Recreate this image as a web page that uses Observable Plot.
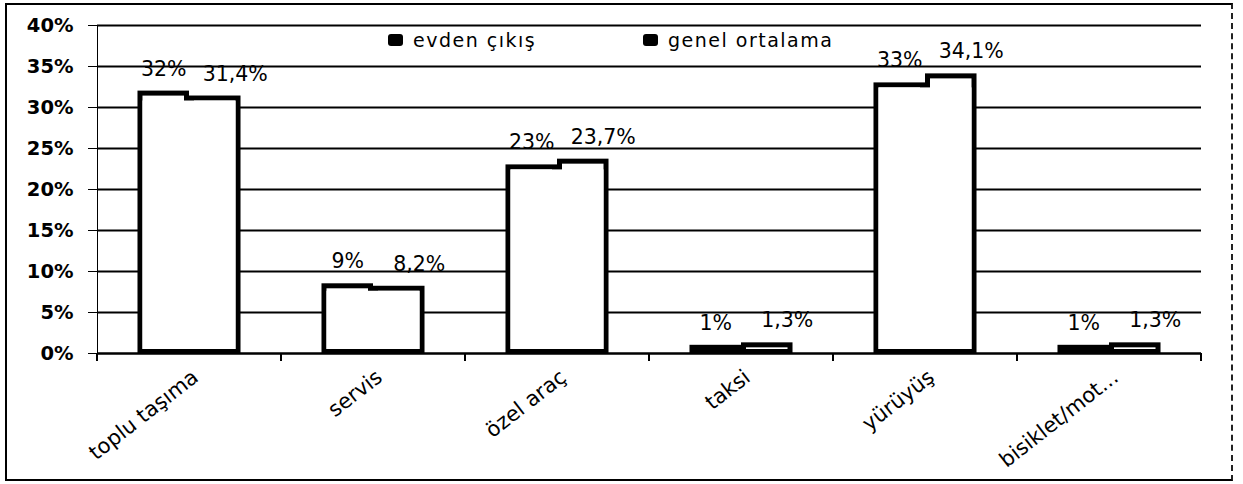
<!DOCTYPE html>
<html>
<head>
<meta charset="utf-8">
<script src="https://cdn.jsdelivr.net/npm/d3@7"></script>
<script src="https://cdn.jsdelivr.net/npm/@observablehq/plot@0.6"></script>
<style>
  html, body { margin: 0; padding: 0; background: white; }
  #wrap { position: relative; width: 1243px; height: 484px; overflow: hidden; background: white; }
  #border { position: absolute; left: 5px; top: 3px; width: 1224px; height: 474px;
            border: 2px solid black; border-right: 2px dashed #222; pointer-events: none; }
  #legend { position: absolute; top: 29px; left: 0; font-family: "DejaVu Sans", sans-serif;
            font-size: 19px; letter-spacing: 1.5px; color: black; }
  .item { position: absolute; white-space: nowrap; display: flex; align-items: center; }
  .sw { display: inline-block; width: 15px; height: 12px; background: black; border-radius: 3px; margin-right: 10px; }
  #chart svg [aria-label^="y-axis"] text { font-weight: bold !important; font-size: 19.5px !important; }
  #chart svg [aria-label^="fx-axis"] text { font-size: 21px !important; }
</style>
</head>
<body>
<div id="wrap">
  <div id="chart"></div>
  <div id="legend"></div>
  <div id="border"></div>
</div>
<script>
// ---- data ----
const categories = ["toplu taşıma", "servis", "özel araç", "taksi", "yürüyüş", "bisiklet/mot..."];
const seriesNames = ["evden çıkış", "genel ortalama"];
const evdenValues = [32, 8.5, 23, 1, 33, 1];
const genelValues = [31.4, 8.2, 23.7, 1.3, 34.1, 1.3];
const evdenLabels = ["32%", "9%", "23%", "1%", "33%", "1%"];
const genelLabels = ["31,4%", "8,2%", "23,7%", "1,3%", "34,1%", "1,3%"];
const yTicks = [0, 5, 10, 15, 20, 25, 30, 35, 40];

const rows = [];
categories.forEach((c, i) => {
  const pairMin = Math.min(evdenValues[i], genelValues[i]);
  rows.push({category: c, series: seriesNames[0], value: evdenValues[i], label: evdenLabels[i], pairMin});
  rows.push({category: c, series: seriesNames[1], value: genelValues[i], label: genelLabels[i], pairMin});
});

const B = 5; // border thickness of the bars
const isFirst = d => d.series === seriesNames[0];
const isSecond = d => d.series === seriesNames[1];

const plot = Plot.plot({
  width: 1243,
  height: 484,
  marginLeft: 97,
  marginRight: 42,
  marginTop: 25,
  marginBottom: 131,
  style: {fontFamily: "DejaVu Sans, sans-serif", fontSize: "20px", background: "transparent", color: "black", overflow: "visible"},
  facet: {data: rows, x: "category"},
  fx: {domain: categories, padding: 0, label: null, axis: "bottom", tickSize: 0, tickPadding: 18, tickRotate: -38},
  x: {domain: seriesNames, paddingInner: 0, paddingOuter: 0.786, axis: null, round: false},
  y: {domain: [0, 40], ticks: 8, tickFormat: d => d + "%", label: null, tickSize: 9, tickPadding: 15, line: true},
  marks: [
    Plot.ruleY(yTicks, {stroke: "black", strokeWidth: 2}),
    // outer black shape
    Plot.barY(rows, {x: "series", y: "value", fill: "black"}),
    // white interiors of each bar
    Plot.barY(rows, {x: "series", y: "value", fill: "white",
      insetLeft: B, insetRight: B, insetTop: B, insetBottom: B - 1}),
    // white bridge across the shared edge, up to the lower of the two bars
    Plot.barY(rows, {filter: isFirst, x: "series", y: "pairMin", fill: "white",
      insetLeft: B, insetTop: B, insetBottom: B - 1}),
    Plot.barY(rows, {filter: isSecond, x: "series", y: "pairMin", fill: "white",
      insetRight: B, insetTop: B, insetBottom: B - 1}),
    Plot.ruleY([0], {stroke: "black", strokeWidth: 2}),
    Plot.text(rows, {filter: isFirst, x: "series", y: "value", text: "label",
      dy: -22, fontSize: 20.5, fill: "black"}),
    Plot.text(rows, {filter: isSecond, x: "series", y: "value", text: "label",
      dy: -22, dx: 20, fontSize: 20.5, fill: "black"})
  ]
});

document.getElementById("chart").appendChild(plot);

// nudge the rotated category labels slightly right/down, as in the reference
d3.select(plot).selectAll('[aria-label^="fx-axis"]').each(function() {
  const g = d3.select(this);
  const t = g.attr("transform") || "";
  g.attr("transform", "translate(6,3) " + t);
});

// category boundary tick marks on the baseline, placed from the fx and y scales
(function addBoundaryTicks() {
  const fx = plot.scale("fx");
  const y = plot.scale("y");
  if (!fx || !y) return;
  const yScale = d3.scaleLinear().domain(y.domain).range(y.range);
  const y0 = yScale(0);
  const fxScale = d3.scaleBand().domain(fx.domain).range(fx.range).padding(0);
  const xs = fx.domain.map(d => fxScale(d)).concat([fxScale.range()[1]]);
  const g = d3.select(plot).append("g").attr("stroke", "black").attr("stroke-width", 2);
  xs.forEach(x => {
    g.append("line").attr("x1", x).attr("x2", x).attr("y1", y0).attr("y2", y0 + 8);
  });
})();

// legend (HTML, above the svg)
const legend = document.getElementById("legend");
const legendLeft = [388, 643];
seriesNames.forEach((s, i) => {
  const item = document.createElement("div");
  item.className = "item";
  item.style.left = legendLeft[i] + "px";
  item.innerHTML = '<span class="sw"></span><span></span>';
  item.lastChild.textContent = s;
  legend.appendChild(item);
});
</script>
</body>
</html>
